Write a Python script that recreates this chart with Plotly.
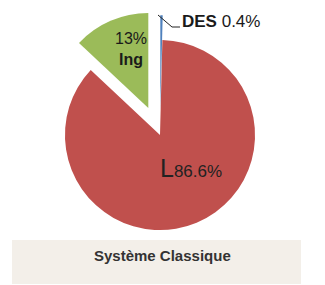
import plotly.graph_objects as go

labels = ["DES", "L", "Ing"]
values = [0.4, 86.6, 13.0]
colors = ["#4F81BD", "#C0504D", "#9BBB59"]
pulls = [0.26, 0.0, 0.31]
caption = "Système Classique"

W, H = 325, 285
FONT = "Liberation Sans, Arial"

fig = go.Figure(go.Pie(
    labels=labels, values=values, sort=False, direction="clockwise", rotation=0,
    marker=dict(colors=colors, line=dict(color="white", width=0)),
    pull=pulls, textinfo="none",
    domain=dict(x=[35.5 / W, 284.5 / W], y=[1 - 259.5 / H, 1 - 10.5 / H]),
    showlegend=False, hoverinfo="skip",
))

def px(x):
    return x / W

def py(y):
    return 1 - y / H

# caption box
fig.add_shape(type="rect", xref="paper", yref="paper",
              x0=px(12), x1=px(301), y0=py(284), y1=py(240),
              fillcolor="#F3EFE9", line=dict(width=0), layer="below")
fig.add_annotation(text="<b>%s</b>" % caption, xref="paper", yref="paper",
                   x=px(163), y=py(255), xanchor="center", yanchor="middle", showarrow=False,
                   font=dict(family=FONT, size=15, color="#333333"))

# DES label with leader line
fig.add_shape(type="path", xref="paper", yref="paper",
              path="M %f %f L %f %f L %f %f" % (px(158), py(15), px(172), py(27), px(180), py(27)),
              line=dict(color="#222222", width=1))
fig.add_annotation(text="<b>%s</b> %.1f%%" % (labels[0], values[0]), xref="paper", yref="paper",
                   x=px(180), y=py(21.5), xanchor="left", yanchor="middle", showarrow=False,
                   font=dict(family=FONT, size=17, color="#1a1a1a"))

# L label
fig.add_annotation(text="<span style='font-size:25px'>%s</span>%.1f%%" % (labels[1], values[1]),
                   xref="paper", yref="paper",
                   x=px(158), y=py(168), xanchor="left", yanchor="middle", showarrow=False,
                   font=dict(family=FONT, size=17, color="#222222"))

# Ing label
fig.add_annotation(text="%d%%<br><b>%s</b>" % (round(values[2]), labels[2]),
                   xref="paper", yref="paper",
                   x=px(131), y=py(49), xanchor="center", yanchor="middle", showarrow=False,
                   font=dict(family=FONT, size=16, color="#1a1a1a"))

fig.update_layout(width=W, height=H, margin=dict(l=0, r=0, t=0, b=0),
                  paper_bgcolor="white", plot_bgcolor="white")
fig.write_html("out.html")
